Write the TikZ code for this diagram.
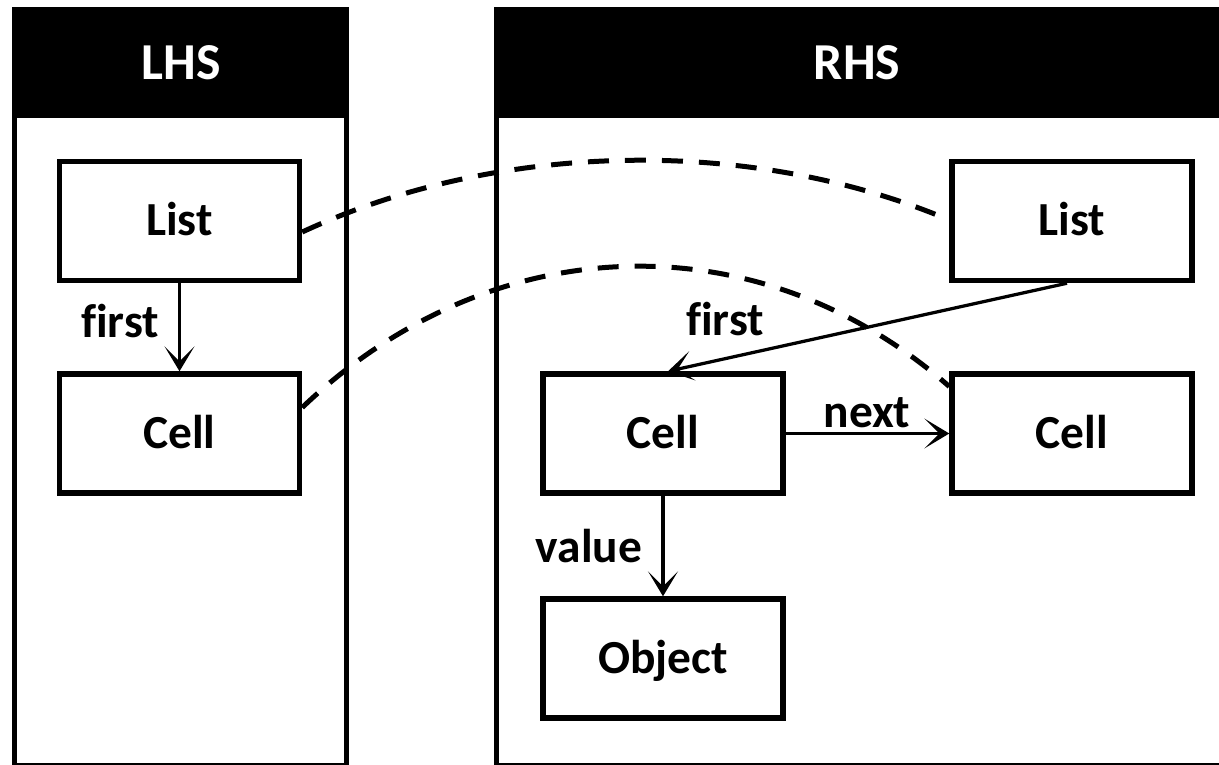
\documentclass[tikz,border=0pt]{standalone}
\usepackage{fontspec}
\setmainfont{Carlito}[Ligatures=NoCommon]
\usetikzlibrary{arrows.meta,calc}

\begin{document}
\begin{tikzpicture}[x=0.02cm,y=-0.02cm,
  panel/.style={line width=0.1cm},
  headbar/.style={fill=black},
  title/.style={text=white,font=\bfseries\fontsize{29.5pt}{35pt}\selectfont,
    text height=18.6pt,text depth=0pt,inner sep=0pt},
  box/.style={draw,line width=0.11cm,minimum width=4.8cm,minimum height=2.38cm,
    font=\bfseries\fontsize{27pt}{32pt}\selectfont,text height=17pt,text depth=0pt},
  lbl/.style={font=\bfseries\fontsize{27pt}{32pt}\selectfont,inner sep=0pt},
  link/.style={line width=0.065cm,
    -{Stealth[length=0.5cm,width=0.6cm,inset=0.3cm,line width=0.03cm]}},
  corr/.style={line width=0.1cm,dash pattern=on 0.42cm off 0.32cm}]

  \clip (0,0) rectangle (1219,764);

  % left-hand side panel
  \draw[panel] (14.5,9.5) rectangle (346.5,765.7);
  \fill[headbar] (12,7) rectangle (349,118);
  \node[title] (lhsTitle) at (181,63.5) {LHS};

  % right-hand side panel
  \draw[panel] (496.5,9.5) rectangle (1240,765.7);
  \fill[headbar] (494,7) rectangle (1240,118);
  \node[title] (rhsTitle) at (857,63.5) {RHS};

  % LHS pattern
  \node[box] (lList) at (179.5,221) {List};
  \node[box] (lCell) at (179.5,433.5) {Cell};

  % RHS pattern
  \node[box] (rList) at (1072,221) {List};
  \node[box] (rCell) at (663,433.5) {Cell};
  \node[box] (rNext) at (1072,433.5) {Cell};
  \node[box] (rObj)  at (663,658.5) {Object};

  % edges
  \draw[link] (lList.south) -- (lCell.north);
  \node[lbl,anchor=base] (lFirst) at (120,337) {first};

  \draw[link] ($(rList.south)+(-5,0)$) -- ($(rCell.north)+(5,0)$);
  \node[lbl,anchor=base] (rFirst) at (725,335) {first};

  \draw[link] (rCell.east) -- (rNext.west);
  \node[lbl,anchor=base] (rNextLbl) at (867,427) {next};

  \draw[link] (rCell.south) -- (rObj.north);
  \node[lbl,anchor=base] (rValue) at (589,562) {value};

  % correspondence between the two sides
  \draw[corr] ($(lList.east)+(0,11)$)
    .. controls +(196,-91) and +(-199,-84) .. ($(rList.west)+(0,-1)$);
  \draw[corr] ($(lCell.east)+(0,-26)$)
    .. controls +(186,-178) and +(-194,-170) .. ($(rNext.west)+(0,-47)$);
\end{tikzpicture}
\end{document}
